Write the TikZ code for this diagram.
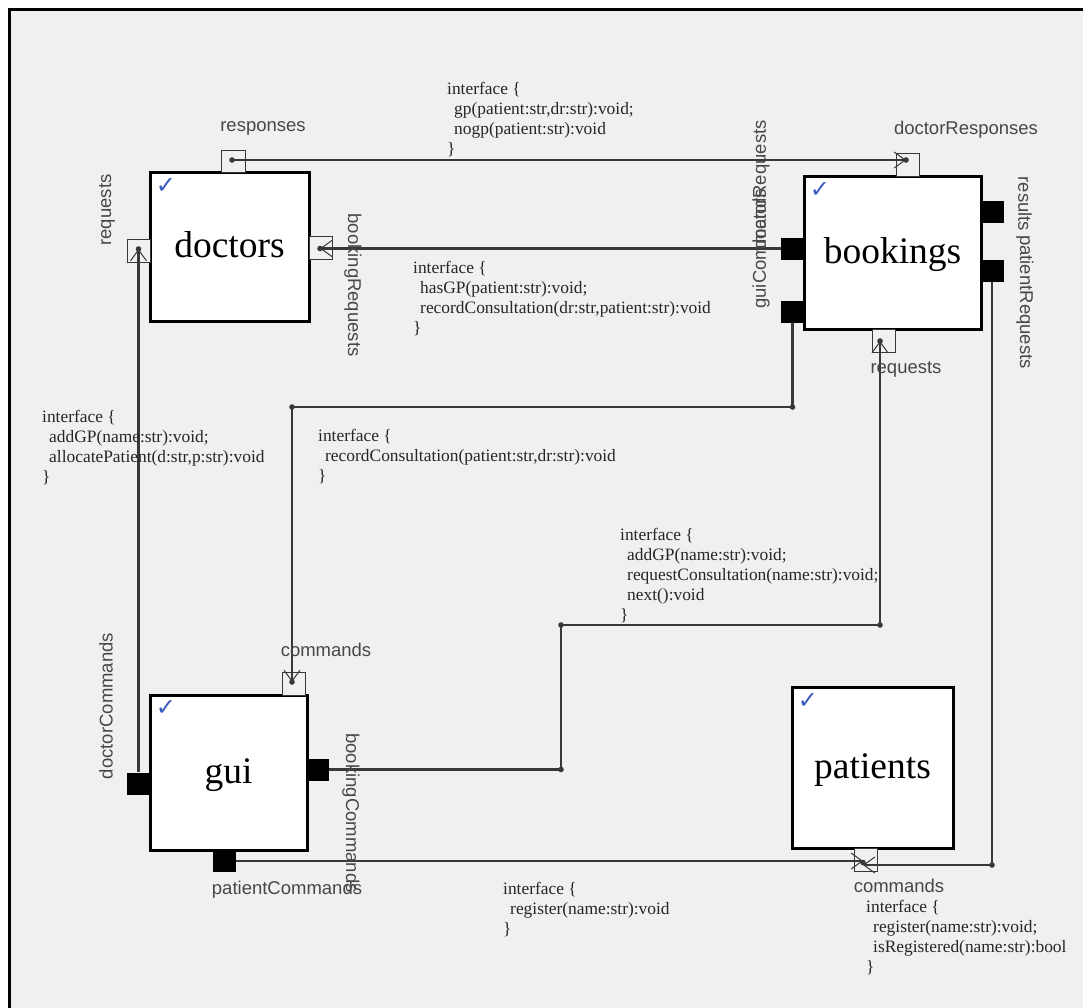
\documentclass[tikz,border=0pt]{standalone}
\usepackage{fontspec}
\setmainfont{Liberation Serif}
\newfontfamily\sansf{Liberation Sans}
\newfontfamily\symf{DejaVu Sans}
\usetikzlibrary{arrows.meta}
\definecolor{bgc}{HTML}{F0F0F0}
\definecolor{wirec}{HTML}{383838}
\definecolor{tickc}{HTML}{3A5BC0}
\begin{document}
\begin{tikzpicture}[x=1pt,y=-1pt,
  comp/.style={draw=black,line width=3pt,fill=white,inner sep=0pt,text height=27pt,text depth=5pt,font=\fontsize{37.5}{42}\selectfont},
  openport/.style={draw=wirec,line width=0.9pt,fill=bgc,inner sep=0pt,minimum width=23pt,minimum height=23pt},
  solidport/.style={draw=none,fill=black,inner sep=0pt,minimum width=23pt,minimum height=22pt},
  wire/.style={draw=wirec,line width=2.4pt},
  pa/.style={-{Straight Barb[length=11pt,width=16pt,line width=1pt]}},
  iface/.style={anchor=north west,inner sep=0pt,align=left,text=black!85,font=\fontsize{17.4}{20}\selectfont},
  plabel/.style={inner sep=0pt,text=black!72,font=\sansf\fontsize{18.5}{21}\selectfont},
  tickmark/.style={inner sep=0pt,text=tickc,font=\symf\fontsize{24}{26}\selectfont}]
\useasboundingbox (0,0) rectangle (1083,1007);
\clip (0,0) rectangle (1083,1007);
\fill[white] (0,0) rectangle (1083,1007);
\draw[line width=3pt,fill=bgc] (9,9) rectangle (1100,1030);

% components
\node[comp,minimum width=159pt,minimum height=149pt] (doctors) at (229.5,246.5) {doctors};
\node[comp,minimum width=177pt,minimum height=153pt] (bookings) at (892.5,252.5) {bookings};
\node[comp,minimum width=157pt,minimum height=155pt] (gui) at (228.5,772.5) {gui};
\node[comp,minimum width=161pt,minimum height=161pt] (patients) at (872.5,767.5) {patients};

\node[tickmark] (tk1) at (166,186) {✓};
\node[tickmark] (tk2) at (820,190) {✓};
\node[tickmark] (tk3) at (166,708) {✓};
\node[tickmark] (tk4) at (808,701) {✓};

% ports
\node[openport,minimum width=24pt,minimum height=22pt] (docResp) at (233,161) {};
\node[openport] (docReq) at (138.5,251) {};
\node[openport] (docBreq) at (321,247.5) {};
\node[openport] (bookDresp) at (907.5,164.5) {};
\node[solidport] (bookDreq) at (792.5,248.5) {};
\node[solidport] (bookGui) at (792.5,312) {};
\node[solidport] (bookRes) at (992,212) {};
\node[solidport] (bookPreq) at (992,270.5) {};
\node[openport] (bookReq) at (884,340.5) {};
\node[openport] (guiCmd) at (293.5,683.5) {};
\node[solidport] (guiDoc) at (138.5,783.5) {};
\node[solidport] (guiBook) at (317.5,769.5) {};
\node[solidport] (guiPat) at (224.5,861) {};
\node[openport] (patCmd) at (865.5,860) {};

% dots and bends
\coordinate (respDot) at (232,160);
\coordinate (drespDot) at (906,160);
\coordinate (docBreqDot) at (320,248.5);
\coordinate (docReqDot) at (138.5,249);
\coordinate (guiCmdDot) at (292,682);
\coordinate (bookReqDot) at (880,341);
\coordinate (pcL) at (863,861);
\coordinate (pcR) at (863,865);
\coordinate (pcDot) at (863,862.5);
\coordinate (b1) at (792.5,407);
\coordinate (b2) at (292,407);
\coordinate (b3) at (561,769.5);
\coordinate (b4) at (561,625);
\coordinate (b5) at (880,625);
\coordinate (b6) at (992,865);

% connectors
\draw[wire,pa] (respDot) -- (drespDot);
\draw[wire,pa] (bookDreq.west) -- (docBreqDot);
\draw[wire,pa] (bookGui.south) -- (b1) -- (b2) -- (guiCmdDot);
\draw[wire,pa] (guiDoc.north) -- (docReqDot);
\draw[wire,pa] (guiBook.east) -- (b3) -- (b4) -- (b5) -- (bookReqDot);
\draw[wire,pa] (guiPat.east) -- (pcL);
\draw[wire,pa] (bookPreq.south) -- (b6) -- (pcR);

\foreach \c in {respDot,drespDot,docBreqDot,docReqDot,guiCmdDot,bookReqDot,pcDot,b1,b2,b3,b4,b5,b6}
  \fill[wirec] (\c) circle[radius=2.8pt];

% port labels
\node[plabel] (l1) at (263,128) {responses};
\node[plabel] (l2) at (966,130) {doctorResponses};
\node[plabel,rotate=90] (l3) at (107,210) {requests};
\node[plabel,rotate=-90] (l4) at (353,285) {bookingRequests};
\node[plabel,rotate=90] (l5) at (761,185) {doctorRequests};
\node[plabel,rotate=90] (l6) at (761,249) {guiCommands};
\node[plabel,rotate=-90] (l7) at (1025,204) {results};
\node[plabel,rotate=-90] (l8) at (1025,302) {patientRequests};
\node[plabel] (l9) at (906,369) {requests};
\node[plabel] (l10) at (326,650) {commands};
\node[plabel,rotate=90] (l11) at (106,706) {doctorCommands};
\node[plabel,rotate=-90] (l12) at (351,813) {bookingCommands};
\node[plabel] (l13) at (287,890) {patientCommands};
\node[plabel] (l14) at (899,886) {commands};

% interface labels
\node[iface] (i1) at (447,82) {interface \{\\\hspace*{7pt}gp(patient:str,dr:str):void;\\\hspace*{7pt}nogp(patient:str):void\\\}};
\node[iface] (i2) at (413,261) {interface \{\\\hspace*{7pt}hasGP(patient:str):void;\\\hspace*{7pt}recordConsultation(dr:str,patient:str):void\\\}};
\node[iface] (i3) at (42,410) {interface \{\\\hspace*{7pt}addGP(name:str):void;\\\hspace*{7pt}allocatePatient(d:str,p:str):void\\\}};
\node[iface] (i4) at (318,429) {interface \{\\\hspace*{7pt}recordConsultation(patient:str,dr:str):void\\\}};
\node[iface] (i5) at (620,528) {interface \{\\\hspace*{7pt}addGP(name:str):void;\\\hspace*{7pt}requestConsultation(name:str):void;\\\hspace*{7pt}next():void\\\}};
\node[iface] (i6) at (503,882) {interface \{\\\hspace*{7pt}register(name:str):void\\\}};
\node[iface] (i7) at (866,900) {interface \{\\\hspace*{7pt}register(name:str):void;\\\hspace*{7pt}isRegistered(name:str):bool\\\}};
\end{tikzpicture}
\end{document}
